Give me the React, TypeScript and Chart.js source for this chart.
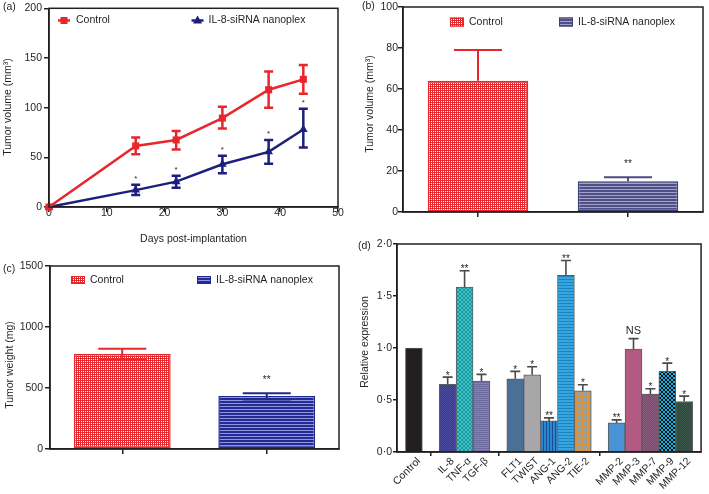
import React, { useEffect, useRef } from "react";
import { Chart, registerables } from "chart.js";

Chart.register(...registerables);

const FONT = "'Liberation Sans', Arial, Helvetica, sans-serif";
const INK = "#231f20";
const RED = "#e8272d";
const NAVY = "#1c1f7d";

// ---------- Panel (a): tumour volume over time ----------
const daysA = [0, 15, 22, 30, 38, 44];
const controlA = [0, 61.5, 67.5, 89.5, 118, 128.5];
const controlHiA = [0, 70, 76.5, 101, 136.5, 143];
const controlLoA = [0, 53, 58, 79, 100, 114];
const sirnaA = [0, 17, 25.5, 43, 55.5, 78];
const sirnaHiA = [0, 22.5, 31.5, 51.5, 67.5, 99];
const sirnaLoA = [0, 12, 19.5, 34, 43.5, 60];
const sirnaSigA = ["", "*", "*", "*", "*", "*"];
const xTicksA = [0, 10, 20, 30, 40, 50];
const yTicksA = [0, 50, 100, 150, 200];

// ---------- Panel (b): final tumour volume ----------
const groupsB = ["Control", "IL-8-siRNA nanoplex"];
const volumeB = [64, 15];
const volumeHiB = [79, 17];
const sigB = ["", "**"];
const yTicksB = [0, 20, 40, 60, 80, 100];

// ---------- Panel (c): tumour weight ----------
const groupsC = ["Control", "IL-8-siRNA nanoplex"];
const weightC = [779, 434];
const weightHiC = [822, 456];
const weightLoC = [736, 405];
const sigC = ["", "**"];
const yTicksC = [0, 500, 1000, 1500];

// ---------- Panel (d): relative expression ----------
const genesD = ["", "Control", "", "IL-8", "TNF-α", "TGF-β", "", "FLT1", "TWIST", "ANG-1", "ANG-2", "TIE-2", "", "MMP-2", "MMP-3", "MMP-7", "MMP-9", "MMP-12", ""];
const exprD = [null, 1.0, null, 0.65, 1.585, 0.682, null, 0.704, 0.743, 0.299, 1.698, 0.588, null, 0.28, 0.99, 0.556, 0.775, 0.486, null];
const exprHiD = [null, null, null, 0.72, 1.743, 0.746, null, 0.775, 0.82, 0.328, 1.842, 0.646, null, 0.309, 1.09, 0.608, 0.855, 0.537, null];
const sigD = ["", "", "", "*", "**", "*", "", "*", "*", "**", "**", "*", "", "**", "NS", "*", "*", "*", ""];
const yTicksD = [0, 0.5, 1, 1.5, 2];
const yLabelsD = ["0·0", "0·5", "1·0", "1·5", "2·0"];

// ---------- helpers ----------
function makePattern(w: number, h: number, paint: (g: CanvasRenderingContext2D) => void): CanvasPattern {
  const c = document.createElement("canvas");
  c.width = w;
  c.height = h;
  const g = c.getContext("2d")!;
  paint(g);
  return g.createPattern(c, "repeat")!;
}
function checker(a: string, b: string, s: number) {
  return makePattern(2 * s, 2 * s, (g) => {
    g.fillStyle = a;
    g.fillRect(0, 0, 2 * s, 2 * s);
    g.fillStyle = b;
    g.fillRect(0, 0, s, s);
    g.fillRect(s, s, s, s);
  });
}
function hStripes(bg: string, line: string, period: number, lh: number) {
  return makePattern(1, period, (g) => {
    g.fillStyle = bg;
    g.fillRect(0, 0, 1, period);
    g.fillStyle = line;
    g.fillRect(0, 0, 1, lh);
  });
}
function vStripes(bg: string, line: string, period: number, lw: number) {
  return makePattern(period, 1, (g) => {
    g.fillStyle = bg;
    g.fillRect(0, 0, period, 1);
    g.fillStyle = line;
    g.fillRect(0, 0, lw, 1);
  });
}
function gridPat(bg: string, line: string, period: number) {
  return makePattern(period, period, (g) => {
    g.fillStyle = bg;
    g.fillRect(0, 0, period, period);
    g.fillStyle = line;
    g.fillRect(0, 0, period, 1);
    g.fillRect(0, 0, 1, period);
  });
}
function dots(bg: string, dot: string) {
  return makePattern(4, 4, (g) => {
    g.fillStyle = bg;
    g.fillRect(0, 0, 4, 4);
    g.fillStyle = dot;
    g.fillRect(1, 1, 1, 1);
    g.fillRect(3, 3, 1, 1);
    g.fillRect(1, 3, 1, 1);
    g.fillRect(3, 1, 1, 1);
  });
}

type TextOpts = { size?: number; align?: CanvasTextAlign; baseline?: CanvasTextBaseline; rot?: number; color?: string };
function drawText(ctx: CanvasRenderingContext2D, s: string, x: number, y: number, o: TextOpts = {}) {
  ctx.save();
  ctx.font = `${o.size ?? 10.5}px ${FONT}`;
  ctx.fillStyle = o.color ?? INK;
  ctx.textAlign = o.align ?? "center";
  ctx.textBaseline = o.baseline ?? "middle";
  ctx.translate(x, y);
  if (o.rot) ctx.rotate(o.rot);
  ctx.fillText(s, 0, 0);
  ctx.restore();
}
function drawSig(ctx: CanvasRenderingContext2D, s: string, x: number, cy: number, size: number) {
  if (!s) return;
  if (s === "NS") drawText(ctx, s, x, cy, { size: 11 });
  else drawText(ctx, s, x, cy + size * 0.28, { size });
}
function drawBox(chart: any) {
  const { ctx, chartArea: a } = chart;
  ctx.save();
  ctx.strokeStyle = INK;
  ctx.lineWidth = 1.5;
  ctx.strokeRect(a.left, a.top, a.right - a.left, a.bottom - a.top);
  ctx.restore();
}
function errLine(ctx: CanvasRenderingContext2D, x: number, y1: number, y2: number, capW: number, color: string, lw: number, capBoth: boolean) {
  ctx.save();
  ctx.strokeStyle = color;
  ctx.lineWidth = lw;
  ctx.beginPath();
  ctx.moveTo(x, y1);
  ctx.lineTo(x, y2);
  ctx.moveTo(x - capW / 2, y2);
  ctx.lineTo(x + capW / 2, y2);
  if (capBoth) {
    ctx.moveTo(x - capW / 2, y1);
    ctx.lineTo(x + capW / 2, y1);
  }
  ctx.stroke();
  ctx.restore();
}

const plainNumber = (v: any) => String(v);

function axis(tickLen: number, pad: number, extra: any = {}) {
  return {
    grid: { drawOnChartArea: false, drawTicks: true, tickLength: tickLen, color: INK, lineWidth: 1.5, ...(extra.grid || {}) },
    border: { display: true, color: INK, width: 1.5 },
    ticks: { font: { family: FONT, size: 10.5 }, color: INK, padding: pad, callback: plainNumber, ...(extra.ticks || {}) },
  };
}
const baseOptions = {
  responsive: false,
  animation: false,
  devicePixelRatio: 1,
  events: [],
};

// ---------- Panel (a) ----------
const panelAPlugin = {
  id: "panelA",
  afterDatasetsDraw(chart: any) {
    const { ctx } = chart;
    const { x, y } = chart.scales;
    daysA.forEach((d, i) => {
      const px = x.getPixelForValue(d);
      if (controlHiA[i] !== controlLoA[i])
        errLine(ctx, px, y.getPixelForValue(controlLoA[i]), y.getPixelForValue(controlHiA[i]), 9, RED, 2.5, true);
      if (sirnaHiA[i] !== sirnaLoA[i])
        errLine(ctx, px, y.getPixelForValue(sirnaLoA[i]), y.getPixelForValue(sirnaHiA[i]), 9, NAVY, 2.5, true);
      drawSig(ctx, sirnaSigA[i], px, y.getPixelForValue(sirnaHiA[i]) - 8, 8);
    });
  },
  afterDraw(chart: any) {
    const { ctx, chartArea: a } = chart;
    drawBox(chart);
    // legend
    ctx.save();
    ctx.lineWidth = 2.5;
    ctx.strokeStyle = RED;
    ctx.beginPath();
    ctx.moveTo(58, 20.5);
    ctx.lineTo(70, 20.5);
    ctx.stroke();
    ctx.fillStyle = RED;
    ctx.fillRect(60.5, 17, 7, 7);
    ctx.strokeStyle = NAVY;
    ctx.beginPath();
    ctx.moveTo(191.5, 20.5);
    ctx.lineTo(203.5, 20.5);
    ctx.stroke();
    ctx.fillStyle = NAVY;
    ctx.beginPath();
    ctx.moveTo(197.5, 15.5);
    ctx.lineTo(202, 23.5);
    ctx.lineTo(193, 23.5);
    ctx.closePath();
    ctx.fill();
    ctx.restore();
    drawText(ctx, "Control", 76, 20.5, { align: "left" });
    drawText(ctx, "IL-8-siRNA nanoplex", 208.5, 20.5, { align: "left" });
    drawText(ctx, "(a)", 3, 7, { align: "left" });
    drawText(ctx, "Days post-implantation", (a.left + a.right) / 2, 239);
    drawText(ctx, "Tumor volume (mm³)", 8, 107, { rot: -Math.PI / 2 });
  },
};

function configA() {
  return {
    type: "line",
    data: {
      datasets: [
        {
          label: "Control",
          data: daysA.map((d, i) => ({ x: d, y: controlA[i] })),
          borderColor: RED,
          backgroundColor: RED,
          borderWidth: 2.5,
          pointStyle: "rect",
          pointRadius: 5,
          pointBorderWidth: 0,
          clip: false,
        },
        {
          label: "IL-8-siRNA nanoplex",
          data: daysA.map((d, i) => ({ x: d, y: sirnaA[i] })),
          borderColor: NAVY,
          backgroundColor: NAVY,
          borderWidth: 2.5,
          pointStyle: "triangle",
          pointRadius: 5,
          pointBorderWidth: 0,
          clip: false,
        },
      ],
    },
    options: {
      ...baseOptions,
      layout: { padding: { left: 0, top: 7, right: 12, bottom: 0 } },
      plugins: { legend: { display: false }, tooltip: { enabled: false } },
      scales: {
        x: {
          type: "linear",
          min: 0,
          max: 50,
          ...axis(5, -5),
          afterBuildTicks: (s: any) => { s.ticks = xTicksA.map((v) => ({ value: v })); },
          afterFit: (s: any) => { s.height = 43; },
        },
        y: {
          type: "linear",
          min: 0,
          max: 200,
          ...axis(5, 2),
          afterBuildTicks: (s: any) => { s.ticks = yTicksA.map((v) => ({ value: v })); },
          afterFit: (s: any) => { s.width = 49; },
        },
      },
    },
    plugins: [panelAPlugin],
  };
}

// ---------- Panels (b) & (c) ----------
function twoBarConfig(opts: {
  labels: string[];
  values: number[];
  hi: number[];
  lo: number[] | null;
  sig: string[];
  yTicks: number[];
  max: number;
  fills: any[];
  borders: string[];
  errColors: string[];
  padding: any;
  xHeight: number;
  yWidth: number;
  yPad: number;
  sigOffset: number;
  legendY: number;
  legendBoxes: number[];
  boxH: number;
  panelLabel: [string, number, number];
  yTitle: [string, number, number];
}) {
  const plugin = {
    id: "twoBar",
    afterDatasetsDraw(chart: any) {
      const { ctx } = chart;
      const y = chart.scales.y;
      const meta = chart.getDatasetMeta(0);
      opts.values.forEach((v, i) => {
        const px = meta.data[i].x;
        const start = opts.lo ? y.getPixelForValue(opts.lo[i]) : y.getPixelForValue(v);
        const pHi = y.getPixelForValue(opts.hi[i]);
        errLine(ctx, px, start, pHi, 48, opts.errColors[i], 2, !!opts.lo);
        drawSig(ctx, opts.sig[i], px, pHi - opts.sigOffset, 10);
      });
    },
    afterDraw(chart: any) {
      const { ctx } = chart;
      drawBox(chart);
      opts.labels.forEach((lab, i) => {
        const bx = opts.legendBoxes[i];
        ctx.save();
        ctx.fillStyle = opts.fills[i];
        ctx.fillRect(bx, opts.legendY - opts.boxH / 2, 14, opts.boxH);
        ctx.strokeStyle = opts.borders[i];
        ctx.lineWidth = 1;
        ctx.strokeRect(bx + 0.5, opts.legendY - opts.boxH / 2 + 0.5, 13, opts.boxH - 1);
        ctx.restore();
        drawText(ctx, lab, bx + 19, opts.legendY, { align: "left" });
      });
      drawText(ctx, opts.panelLabel[0], opts.panelLabel[1], opts.panelLabel[2], { align: "left" });
      drawText(ctx, opts.yTitle[0], opts.yTitle[1], opts.yTitle[2], { rot: -Math.PI / 2 });
    },
  };
  return {
    type: "bar",
    data: {
      labels: opts.labels,
      datasets: [
        {
          data: opts.values,
          backgroundColor: opts.fills,
          borderColor: opts.borders,
          borderWidth: 1.5,
          borderSkipped: false,
          barPercentage: 0.67,
          categoryPercentage: 1,
        },
      ],
    },
    options: {
      ...baseOptions,
      layout: { padding: opts.padding },
      plugins: { legend: { display: false }, tooltip: { enabled: false } },
      scales: {
        x: {
          type: "category",
          offset: true,
          ...axis(5, 0, { grid: { offset: false }, ticks: { display: false } }),
          afterFit: (s: any) => { s.height = opts.xHeight; },
        },
        y: {
          type: "linear",
          min: 0,
          max: opts.max,
          ...axis(5, opts.yPad),
          afterBuildTicks: (s: any) => { s.ticks = opts.yTicks.map((v) => ({ value: v })); },
          afterFit: (s: any) => { s.width = opts.yWidth; },
        },
      },
    },
    plugins: [plugin],
  };
}

function configB() {
  const fills = [dots(RED, "#ffffff"), hStripes("#4d4f86", "#a3a3c8", 3, 1)];
  return twoBarConfig({
    labels: groupsB,
    values: volumeB,
    hi: volumeHiB,
    lo: null,
    sig: sigB,
    yTicks: yTicksB,
    max: 100,
    fills,
    borders: [RED, "#3d3f74"],
    errColors: [RED, "#4b4d82"],
    padding: { left: 0, top: 7, right: 6, bottom: 0 },
    xHeight: 33,
    yWidth: 53,
    yPad: 0,
    sigOffset: 16,
    legendY: 22,
    legendBoxes: [100, 209],
    boxH: 9,
    panelLabel: ["(b)", 12, 6],
    yTitle: ["Tumor volume (mm³)", 20.5, 104],
  });
}

function configC() {
  const fills = [dots(RED, "#ffffff"), hStripes("#232c96", "#9096d6", 3, 1)];
  return twoBarConfig({
    labels: groupsC,
    values: weightC,
    hi: weightHiC,
    lo: weightLoC,
    sig: sigC,
    yTicks: yTicksC,
    max: 1500,
    fills,
    borders: [RED, "#1e2a8c"],
    errColors: [RED, "#1e2a8c"],
    padding: { left: 0, top: 16, right: 11, bottom: 0 },
    xHeight: 45,
    yWidth: 50,
    yPad: 2,
    sigOffset: 15.5,
    legendY: 30,
    legendBoxes: [71, 197],
    boxH: 8,
    panelLabel: ["(c)", 3, 19],
    yTitle: ["Tumor weight (mg)", 10, 115],
  });
}

// ---------- Panel (d) ----------
function configD() {
  const fills: any[] = [
    "#fff",
    "#231f20",
    "#fff",
    checker("#383b8c", "#4a4d9e", 1),
    checker("#1c9aa3", "#40bfc3", 2),
    hStripes("#6c6aa0", "#8d7fae", 2, 1),
    "#fff",
    "#4b7096",
    "#a8a6a9",
    vStripes("#2c86d4", "#1a4e8e", 3, 1),
    hStripes("#34a8de", "#1f82c2", 3, 1),
    gridPat("#8ea3ae", "#d8923e", 3),
    "#fff",
    "#4a92d6",
    "#b25a81",
    checker("#784a6c", "#8a5c7e", 1),
    checker("#0f1012", "#19b0e0", 2),
    checker("#2c463b", "#3c584a", 1),
    "#fff",
  ];
  const isGap = (i: number) => genesD[i] === "" && i > 0 && i < genesD.length - 1;
  const plugin = {
    id: "panelD",
    afterDatasetsDraw(chart: any) {
      const { ctx } = chart;
      const y = chart.scales.y;
      const meta = chart.getDatasetMeta(0);
      exprD.forEach((v, i) => {
        if (v === null) return;
        const px = meta.data[i].x;
        const hi = exprHiD[i];
        if (hi !== null) {
          const pHi = y.getPixelForValue(hi);
          errLine(ctx, px, y.getPixelForValue(v), pHi, 10, "#4a4a4a", 1.6, false);
          drawSig(ctx, sigD[i], px, pHi - (sigD[i] === "NS" ? 7.5 : 4), 10);
        }
      });
    },
    afterDraw(chart: any) {
      const { ctx } = chart;
      drawBox(chart);
      drawText(ctx, "(d)", 13, 21, { align: "left" });
      drawText(ctx, "Relative expression", 20, 117, { rot: -Math.PI / 2 });
    },
  };
  return {
    type: "bar",
    data: {
      labels: genesD,
      datasets: [
        {
          data: exprD,
          backgroundColor: fills,
          borderColor: "#5c5c5c",
          borderWidth: 1,
          barPercentage: 1,
          categoryPercentage: 1,
        },
      ],
    },
    options: {
      ...baseOptions,
      layout: { padding: { left: 0, top: 19, right: 3, bottom: 0 } },
      plugins: { legend: { display: false }, tooltip: { enabled: false } },
      scales: {
        x: {
          type: "category",
          offset: false,
          ...axis(4, -1, {
            grid: { offset: false, color: (c: any) => (isGap(c.index) ? INK : "rgba(0,0,0,0)") },
            ticks: {
              autoSkip: false,
              maxRotation: 45,
              minRotation: 45,
              labelOffset: 5,
              callback: (_v: any, i: number) => genesD[i],
            },
          }),
          afterFit: (s: any) => { s.height = 42; },
        },
        y: {
          type: "linear",
          min: 0,
          max: 2,
          ...axis(4, 1, { ticks: { callback: (v: any) => yLabelsD[yTicksD.indexOf(Number(v))] ?? "" } }),
          afterBuildTicks: (s: any) => { s.ticks = yTicksD.map((v) => ({ value: v })); },
          afterFit: (s: any) => { s.width = 52; },
        },
      },
    },
    plugins: [plugin],
  };
}

type Spec = { left: number; top: number; width: number; height: number; build: () => any };

function Panel({ spec }: { spec: Spec }) {
  const ref = useRef<HTMLCanvasElement>(null);
  useEffect(() => {
    const chart = new Chart(ref.current as HTMLCanvasElement, spec.build());
    return () => chart.destroy();
  }, []);
  return (
    <canvas
      ref={ref}
      width={spec.width}
      height={spec.height}
      style={{ position: "absolute", left: spec.left, top: spec.top, width: spec.width, height: spec.height }}
    />
  );
}

const SPECS: Spec[] = [
  { left: 0, top: 0, width: 350, height: 250, build: configA },
  { left: 350, top: 0, width: 359, height: 245, build: configB },
  { left: 0, top: 250, width: 350, height: 244, build: configC },
  { left: 345, top: 225, width: 364, height: 269, build: configD },
];

export default function App() {
  return (
    <div style={{ position: "absolute", left: 0, top: 0, width: 709, height: 494, background: "#fff", overflow: "hidden" }}>
      {SPECS.map((s, i) => (
        <Panel key={i} spec={s} />
      ))}
    </div>
  );
}
